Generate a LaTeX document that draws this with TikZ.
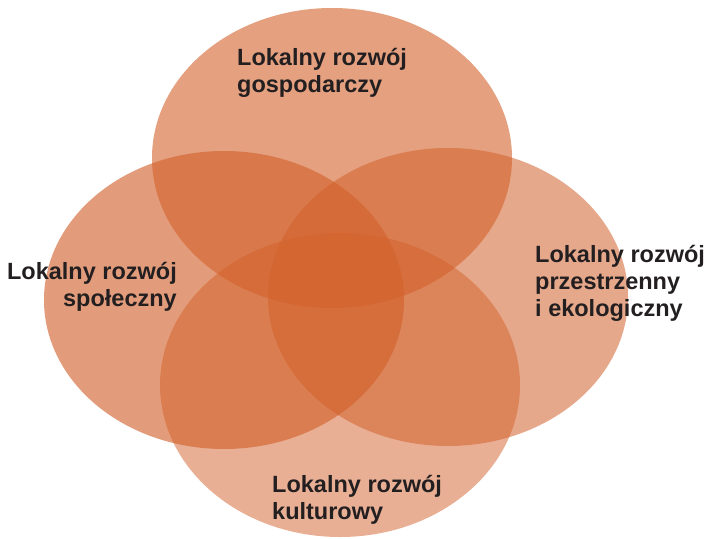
\documentclass[tikz,border=0pt]{standalone}
\usepackage{fontspec}
\setmainfont{Liberation Sans}
\definecolor{petalorange}{RGB}{210,96,42}
\definecolor{labelink}{RGB}{35,31,32}
\begin{document}
\begin{tikzpicture}[x=1pt, y=-1pt,
      petal/.style={fill=petalorange, fill opacity=#1},
      areatext/.style={text=labelink, inner sep=0pt, anchor=base west,
        font=\fontsize{23.5}{27}\selectfont\bfseries}]
      \useasboundingbox (0,0) rectangle (708,538);

      % Four overlapping areas
      \fill[petal=0.60] (332,158) ellipse [x radius=180pt, y radius=150pt];
      \fill[petal=0.62] (224,300) ellipse [x radius=180pt, y radius=149pt];
      \fill[petal=0.55] (448,297) ellipse [x radius=180pt, y radius=149pt];
      \fill[petal=0.50] (340,385) ellipse [x radius=180pt, y radius=152pt];

      % Names of the areas (anchored on the last line)
      \node[areatext, align=left] (gosp) at (237,92.5) {Lokalny rozwój\\gospodarczy};
      \node[areatext, align=right, anchor=base east] (spol) at (177,306) {Lokalny rozwój\\społeczny};
      \node[areatext, align=left] (przes) at (535,316.5) {Lokalny rozwój\\przestrzenny\\i ekologiczny};
      \node[areatext, align=left] (kult) at (272,519) {Lokalny rozwój\\kulturowy};
    \end{tikzpicture}
\end{document}
